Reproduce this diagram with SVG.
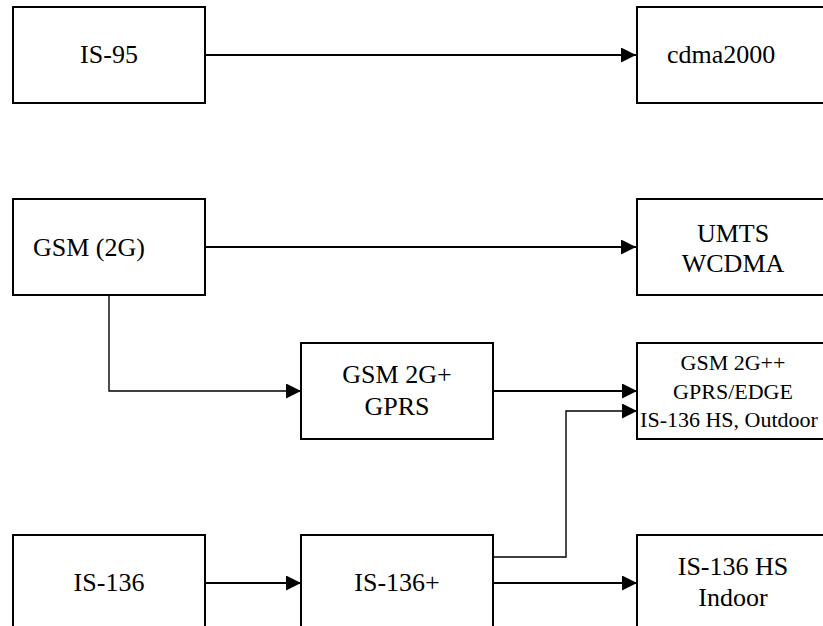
<svg xmlns="http://www.w3.org/2000/svg" width="823" height="626" viewBox="0 0 823 626">
<style>
.box{fill:#fff;stroke:#000;stroke-width:2}
.t{font-family:"Liberation Serif","Times New Roman",serif;font-size:26px;fill:#000;text-anchor:middle}
.s{font-size:22px}
.c{fill:none;stroke:#000;stroke-width:2}
.c2{fill:none;stroke:#000;stroke-width:1.4}
</style>
<defs>
<marker id="ah" markerUnits="userSpaceOnUse" markerWidth="16" markerHeight="16" refX="15" refY="7.5" orient="auto">
<path d="M0,0 L15,7.5 L0,15 z" fill="#000"/>
</marker>
</defs>
<rect width="823" height="626" fill="#fff"/>
<g id="connectors">
<path class="c" d="M205,55 H636" marker-end="url(#ah)"/>
<path class="c" d="M205,247 H636" marker-end="url(#ah)"/>
<path class="c2" d="M109,295 V391 H301" marker-end="url(#ah)"/>
<path class="c" d="M493,391 H637" marker-end="url(#ah)"/>
<path class="c2" d="M493,557 H566 V411 H637" marker-end="url(#ah)"/>
<path class="c" d="M205,583 H301" marker-end="url(#ah)"/>
<path class="c" d="M493,583 H637" marker-end="url(#ah)"/>
</g>
<g id="is95"><rect class="box" x="13" y="7" width="192" height="96"/><text class="t" x="109" y="63">IS-95</text></g>
<g id="cdma2000"><rect class="box" x="637" y="7" width="192" height="96"/><text class="t" x="667" y="63" style="text-anchor:start">cdma2000</text></g>
<g id="gsm"><rect class="box" x="13" y="199" width="192" height="96"/><text class="t" x="33" y="256" style="text-anchor:start">GSM (2G)</text></g>
<g id="umts"><rect class="box" x="637" y="199" width="192" height="96"/><text class="t" x="733" y="242">UMTS</text><text class="t" x="733" y="272">WCDMA</text></g>
<g id="gsm2gplus"><rect class="box" x="301" y="343" width="192" height="96"/><text class="t" x="397" y="383">GSM 2G+</text><text class="t" x="397" y="415">GPRS</text></g>
<g id="gsm2gplusplus"><rect class="box" x="637" y="343" width="192" height="96"/><text class="t s" x="733" y="370">GSM 2G++</text><text class="t s" x="733" y="399">GPRS/EDGE</text><text class="t s" x="729" y="427">IS-136 HS, Outdoor</text></g>
<g id="is136"><rect class="box" x="13" y="535" width="192" height="96"/><text class="t" x="109" y="591">IS-136</text></g>
<g id="is136plus"><rect class="box" x="301" y="535" width="192" height="96"/><text class="t" x="397" y="591">IS-136+</text></g>
<g id="is136hs"><rect class="box" x="637" y="535" width="192" height="96"/><text class="t" x="733" y="575">IS-136 HS</text><text class="t" x="733" y="606">Indoor</text></g>
</svg>
